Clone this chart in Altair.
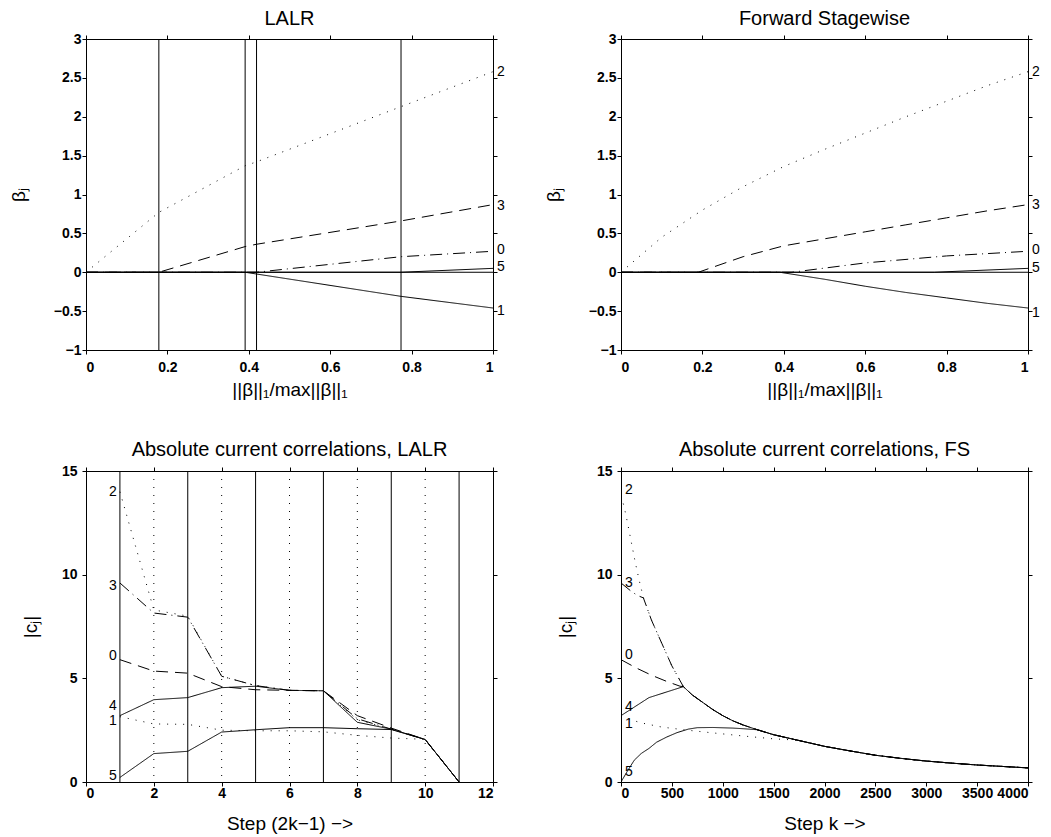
import altair as alt
import pandas as pd

FONT = "Liberation Sans"

# ---------------- Panel 1: LALR coefficient paths ----------------
lalr_knots = [0.179, 0.391, 0.419, 0.774]
lalr_b2_x = [0, 0.179, 0.391, 0.419, 0.774, 1.0]
lalr_b2_y = [0, 0.77, 1.37, 1.42, 2.13, 2.58]
lalr_b3_x = [0, 0.179, 0.391, 0.419, 0.774, 1.0]
lalr_b3_y = [0, 0, 0.33, 0.36, 0.66, 0.87]
lalr_b0_x = [0, 0.419, 0.774, 1.0]
lalr_b0_y = [0, 0, 0.20, 0.27]
lalr_b1_x = [0, 0.391, 0.774, 1.0]
lalr_b1_y = [0, 0, -0.31, -0.46]
lalr_b5_x = [0, 0.774, 1.0]
lalr_b5_y = [0, 0, 0.05]
lalr_b4_x = [0, 1.0]
lalr_b4_y = [0, 0]
beta_label_text = ["2", "3", "0", "5", "1"]
lalr_label_y = [2.58, 0.85, 0.29, 0.07, -0.50]

# ---------------- Panel 2: Forward stagewise coefficient paths ----------------
fs_b2_x = [0, 0.1, 0.2, 0.3, 0.4, 0.5, 0.6, 0.7, 0.8, 0.9, 1.0]
fs_b2_y = [0, 0.45, 0.80, 1.10, 1.36, 1.58, 1.79, 2.00, 2.20, 2.40, 2.58]
fs_b3_x = [0, 0.19, 0.3, 0.4, 0.5, 0.6, 0.7, 0.8, 0.9, 1.0]
fs_b3_y = [0, 0, 0.20, 0.34, 0.43, 0.52, 0.61, 0.70, 0.79, 0.87]
fs_b0_x = [0, 0.42, 0.6, 0.8, 1.0]
fs_b0_y = [0, 0, 0.12, 0.21, 0.27]
fs_b1_x = [0, 0.39, 0.5, 0.6, 0.7, 0.8, 0.9, 1.0]
fs_b1_y = [0, 0, -0.09, -0.18, -0.26, -0.33, -0.40, -0.46]
fs_b5_x = [0, 0.77, 1.0]
fs_b5_y = [0, 0, 0.05]
fs_b4_x = [0, 1.0]
fs_b4_y = [0, 0]
fs_label_y = [2.58, 0.87, 0.29, 0.06, -0.52]

# ---------------- Panel 3: LALR absolute current correlations ----------------
lalr_steps = [1, 2, 3, 4, 5, 6, 7, 8, 9, 10, 11]
lalr_solid_steps = [1, 3, 5, 7, 9, 11]
lalr_dotted_steps = [2, 4, 6, 8, 10]
lalr_c2 = [14.0, 8.3, 8.0, 5.1, 4.65, 4.42, 4.4, 3.0, 2.55, 2.05, 0]
lalr_c3 = [9.6, 8.15, 7.95, 5.1, 4.65, 4.42, 4.4, 3.05, 2.55, 2.05, 0]
lalr_c0 = [5.9, 5.35, 5.25, 4.6, 4.45, 4.42, 4.4, 3.2, 2.6, 2.05, 0]
lalr_c4 = [3.2, 3.97, 4.07, 4.55, 4.62, 4.42, 4.4, 2.88, 2.55, 2.05, 0]
lalr_c1 = [3.15, 2.8, 2.78, 2.5, 2.47, 2.47, 2.42, 2.25, 2.12, 2.06, 0]
lalr_c5 = [0.22, 1.37, 1.48, 2.41, 2.52, 2.62, 2.62, 2.57, 2.53, 2.05, 0]
corr_label_text = ["2", "3", "0", "4", "1", "5"]
lalr_corr_label_y = [14.0, 9.45, 6.06, 3.65, 2.94, 0.27]

# ---------------- Panel 4: FS absolute current correlations ----------------
fs_mid_x = [613, 700, 800, 900, 1000, 1100, 1200]
fs_mid_y = [4.6, 4.2, 3.85, 3.5, 3.2, 2.95, 2.75]
fs_tail_x = [1340, 1500, 1750, 2000, 2250, 2500, 2750, 3000, 3250, 3500, 3750, 4000]
fs_tail_y = [2.52, 2.28, 2.0, 1.72, 1.5, 1.29, 1.14, 1.01, 0.91, 0.82, 0.75, 0.68]
fs_c23_x = [300, 400, 500]
fs_c23_y = [7.8, 6.7, 5.6]
fs_c2_x = [0, 30, 60, 100, 140, 180, 220]
fs_c2_y = [13.8, 13.3, 12.6, 11.6, 10.6, 9.7, 8.9]
fs_c3_x = [0, 100, 160, 220]
fs_c3_y = [9.6, 9.2, 9.0, 8.88]
fs_c0_x = [0, 150, 300, 450, 580]
fs_c0_y = [5.9, 5.5, 5.15, 4.85, 4.62]
fs_c4_x = [0, 275]
fs_c4_y = [3.2, 4.07]
fs_c1_x = [0, 200, 400, 650, 900, 1200, 1500, 1700]
fs_c1_y = [3.15, 2.85, 2.65, 2.5, 2.37, 2.22, 2.08, 2.03]
fs_c5_x = [0, 60, 130, 200, 275, 350, 450, 550, 661, 750, 900, 1100, 1200]
fs_c5_y = [0, 0.5, 1.05, 1.38, 1.62, 1.92, 2.17, 2.38, 2.55, 2.62, 2.63, 2.6, 2.57]
fs_corr_label_y = [14.07, 9.6, 6.14, 3.62, 2.81, 0.48]

DASH_DOMAIN = ["solid", "dotted", "dashed", "dashdot"]
DASH_RANGE = [[1, 0], [1, 7], [12, 7], [12, 5, 1, 5]]


def series(name, style, xs, ys):
    return pd.DataFrame({"x": xs, "y": ys, "var": name, "style": style,
                         "i": list(range(len(xs)))})


def tail_from(x0):
    idx = [k for k, v in enumerate(fs_tail_x) if v >= x0]
    return [fs_tail_x[k] for k in idx], [fs_tail_y[k] for k in idx]


def panel(lines, rules, labels, label_align, label_dx, xdom, ydom, xticks, yticks, xfmt,
          title, title_offset, xtitle, xtitle_y, xlab_pad, ytitle, ytitle_x, ylab_pad):
    W, H = 407, 311
    xs = alt.Scale(domain=xdom, nice=False, zero=False)
    ys = alt.Scale(domain=ydom, nice=False, zero=False)
    dash = alt.StrokeDash("style:N", scale=alt.Scale(domain=DASH_DOMAIN, range=DASH_RANGE), legend=None)

    layers = []
    if rules is not None:
        layers.append(
            alt.Chart(rules).mark_rule(color="black", strokeWidth=1).encode(
                x=alt.X("x:Q", scale=xs, axis=None), strokeDash=dash)
        )
    layers.append(
        alt.Chart(lines).mark_line(color="black", strokeWidth=1, clip=True).encode(
            x=alt.X("x:Q", scale=xs, axis=None),
            y=alt.Y("y:Q", scale=ys, axis=None),
            detail="var:N", order="i:Q", strokeDash=dash)
    )
    layers.append(
        alt.Chart(labels).mark_text(align=label_align, dx=label_dx, baseline="middle",
                                    font=FONT, fontSize=14, color="black").encode(
            x=alt.X("x:Q", scale=xs, axis=None),
            y=alt.Y("y:Q", scale=ys, axis=None),
            text="t:N")
    )
    frame = pd.DataFrame({"x": xdom, "y": ydom})
    layers.append(
        alt.Chart(frame).mark_point(opacity=0).encode(
            x=alt.X("x:Q", scale=xs, axis=alt.Axis(
                orient="bottom", values=xticks, format=xfmt, title=xtitle,
                titleX=W / 2, titleY=xtitle_y, titleAlign="center", titleBaseline="alphabetic",
                labelPadding=xlab_pad)),
            y=alt.Y("y:Q", scale=ys, axis=alt.Axis(
                orient="left", values=yticks, format="~g", title=ytitle,
                titleX=ytitle_x, titleY=H / 2, titleAngle=270, titleAlign="center",
                titleBaseline="middle", labelPadding=ylab_pad)))
    )
    layers.append(
        alt.Chart(frame).mark_point(opacity=0).encode(
            x=alt.X("x:Q", scale=xs, axis=alt.Axis(orient="top", values=xticks, labels=False, title=None)),
            y=alt.Y("y:Q", scale=ys, axis=alt.Axis(orient="right", values=yticks, labels=False, title=None)))
    )
    return alt.layer(*layers).resolve_axis(x="independent", y="independent").properties(
        width=W, height=H,
        title=alt.TitleParams(title, offset=title_offset, baseline="alphabetic", anchor="middle",
                              font=FONT, fontSize=20, fontWeight="normal", color="black"))


# ---- build data tables ----
p1_lines = pd.concat([
    series("2", "dotted", lalr_b2_x, lalr_b2_y),
    series("3", "dashed", lalr_b3_x, lalr_b3_y),
    series("0", "dashdot", lalr_b0_x, lalr_b0_y),
    series("1", "solid", lalr_b1_x, lalr_b1_y),
    series("5", "solid", lalr_b5_x, lalr_b5_y),
    series("4", "solid", lalr_b4_x, lalr_b4_y),
])
p1_rules = pd.DataFrame({"x": lalr_knots, "style": "solid"})
p1_labels = pd.DataFrame({"x": [1.0] * 5, "y": lalr_label_y, "t": beta_label_text})

p2_lines = pd.concat([
    series("2", "dotted", fs_b2_x, fs_b2_y),
    series("3", "dashed", fs_b3_x, fs_b3_y),
    series("0", "dashdot", fs_b0_x, fs_b0_y),
    series("1", "solid", fs_b1_x, fs_b1_y),
    series("5", "solid", fs_b5_x, fs_b5_y),
    series("4", "solid", fs_b4_x, fs_b4_y),
])
p2_labels = pd.DataFrame({"x": [1.0] * 5, "y": fs_label_y, "t": beta_label_text})

p3_lines = pd.concat([
    series("2", "dotted", lalr_steps, lalr_c2),
    series("3", "dashdot", lalr_steps, lalr_c3),
    series("0", "dashed", lalr_steps, lalr_c0),
    series("4", "solid", lalr_steps, lalr_c4),
    series("1", "dotted", lalr_steps, lalr_c1),
    series("5", "solid", lalr_steps, lalr_c5),
])
p3_rules = pd.concat([
    pd.DataFrame({"x": lalr_solid_steps, "style": "solid"}),
    pd.DataFrame({"x": lalr_dotted_steps, "style": "dotted"}),
])
p3_labels = pd.DataFrame({"x": [1.0] * 6, "y": lalr_corr_label_y, "t": corr_label_text})

t_all = tail_from(0)
t_1750 = tail_from(1750)
p4_lines = pd.concat([
    series("2", "dotted", fs_c2_x + fs_c23_x + fs_mid_x + t_all[0], fs_c2_y + fs_c23_y + fs_mid_y + t_all[1]),
    series("3", "dashdot", fs_c3_x + fs_c23_x + fs_mid_x + t_all[0], fs_c3_y + fs_c23_y + fs_mid_y + t_all[1]),
    series("0", "dashed", fs_c0_x + fs_mid_x + t_all[0], fs_c0_y + fs_mid_y + t_all[1]),
    series("4", "solid", fs_c4_x + fs_mid_x + t_all[0], fs_c4_y + fs_mid_y + t_all[1]),
    series("1", "dotted", fs_c1_x + t_1750[0], fs_c1_y + t_1750[1]),
    series("5", "solid", fs_c5_x + t_all[0], fs_c5_y + t_all[1]),
])
p4_labels = pd.DataFrame({"x": [0.0] * 6, "y": fs_corr_label_y, "t": corr_label_text})

beta_ticks = [-1, -0.5, 0, 0.5, 1, 1.5, 2, 2.5, 3]
norm_ticks = [0, 0.2, 0.4, 0.6, 0.8, 1]
corr_ticks = [0, 5, 10, 15]
XT_BETA = "||β||₁/max||β||₁"

p1 = panel(p1_lines, p1_rules, p1_labels, "left", 4, [0, 1], [-1, 3], norm_ticks, beta_ticks, "~g",
           "LALR", -13, XT_BETA, 45, 6, "βⱼ", -68, 1)
p2 = panel(p2_lines, None, p2_labels, "left", 4, [0, 1], [-1, 3], norm_ticks, beta_ticks, "~g",
           "Forward Stagewise", -13, XT_BETA, 45, 6, "βⱼ", -68, 1)
p3 = panel(p3_lines, p3_rules, p3_labels, "right", -3, [0, 12], [0, 15],
           [0, 2, 4, 6, 8, 10, 12], corr_ticks, "d",
           "Absolute current correlations, LALR", -12, "Step (2k−1) −>", 47, 0, "|cⱼ|", -56, 5)
p4 = panel(p4_lines, None, p4_labels, "left", 4, [0, 4000], [0, 15],
           [0, 500, 1000, 1500, 2000, 2500, 3000, 3500, 4000], corr_ticks, "d",
           "Absolute current correlations, FS", -12, "Step k −>", 47, 0, "|cⱼ|", -56, 5)

chart = alt.concat(p1, p2, p3, p4, columns=2,
                   spacing=alt.RowColnumber(row=121, column=128), bounds="flush").properties(
    padding={"left": 0, "top": 0, "right": 0, "bottom": 0}
).configure_view(stroke="black", strokeWidth=1).configure_axis(
    grid=False, domainColor="black", domainWidth=1, tickColor="black", tickWidth=1, tickSize=4,
    labelColor="black", labelFont=FONT, labelFontSize=14, labelFontWeight="bold",
    titleFont=FONT, titleFontSize=19, titleFontWeight="normal", titleColor="black"
)

chart.save("out.html", embed_options={"renderer": "svg", "actions": False})
